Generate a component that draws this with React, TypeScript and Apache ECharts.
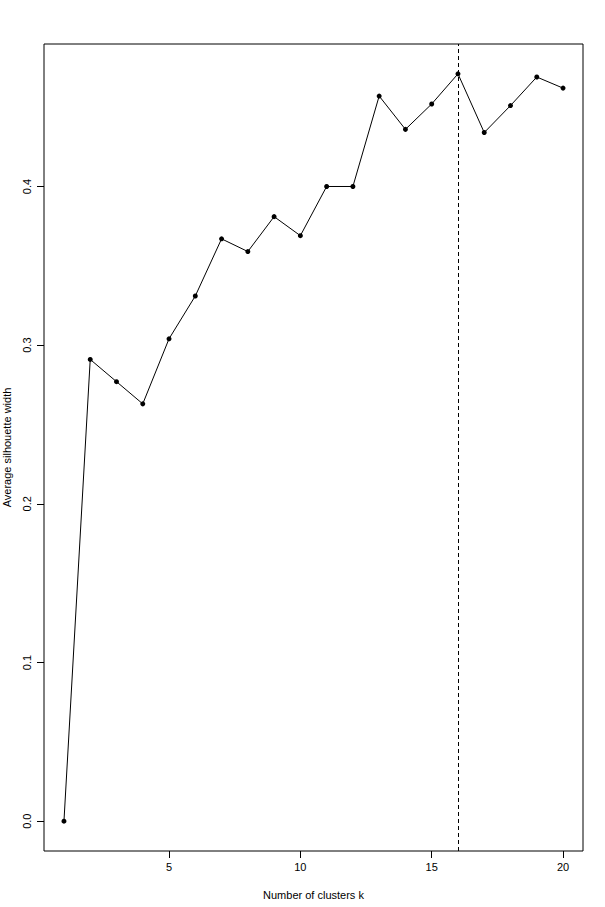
import { useEffect, useRef } from 'react';
import * as echarts from 'echarts';

const clusters = [1, 2, 3, 4, 5, 6, 7, 8, 9, 10, 11, 12, 13, 14, 15, 16, 17, 18, 19, 20];
const silhouette = [
  0.0, 0.291, 0.277, 0.263, 0.304, 0.331, 0.367, 0.359, 0.381, 0.369,
  0.4, 0.4, 0.457, 0.436, 0.452, 0.471, 0.434, 0.451, 0.469, 0.462,
];
const xTicks = [5, 10, 15, 20];
const yTicks = [0, 0.1, 0.2, 0.3, 0.4];
const bestK = 16;

export default function App() {
  const ref = useRef<HTMLDivElement | null>(null);

  useEffect(() => {
    document.body.style.margin = '0';
    if (!ref.current) return;
    const chart = echarts.init(ref.current, null, { renderer: 'svg' });
    const font = 'Arial, "Liberation Sans", sans-serif';
    chart.setOption({
      animation: false,
      textStyle: { fontFamily: font },
      grid: {
        left: 44, right: 22, top: 44, bottom: 56,
        show: true, borderColor: '#000', borderWidth: 1,
        containLabel: false, outerBoundsMode: 'none',
      },
      xAxis: {
        type: 'value',
        min: 0.24,
        max: 20.76,
        name: 'Number of clusters k',
        nameLocation: 'middle',
        nameGap: 38,
        nameTextStyle: { fontSize: 11, color: '#000' },
        splitLine: { show: false },
        axisLine: { show: false, onZero: false },
        axisTick: { show: true, inside: false, length: 7, customValues: xTicks, lineStyle: { color: '#000' } },
        axisLabel: { customValues: xTicks, fontSize: 11, color: '#000', margin: 10 },
      },
      yAxis: {
        type: 'value',
        min: -0.0188,
        max: 0.4898,
        name: 'Average silhouette width',
        nameLocation: 'middle',
        nameGap: 32,
        nameTextStyle: { fontSize: 11, color: '#000' },
        splitLine: { show: false },
        axisLine: { show: false, onZero: false },
        axisTick: { show: true, inside: false, length: 7, customValues: yTicks, lineStyle: { color: '#000' } },
        axisLabel: {
          customValues: yTicks,
          fontSize: 11,
          color: '#000',
          rotate: 90,
          margin: 12,
          formatter: (v: number) => v.toFixed(1),
        },
      },
      series: [
        {
          type: 'line',
          data: clusters.map((k, i) => [k, silhouette[i]]),
          symbol: 'circle',
          symbolSize: 5,
          itemStyle: { color: '#000' },
          lineStyle: { color: '#000', width: 1 },
          markLine: {
            silent: true,
            symbol: 'none',
            label: { show: false },
            lineStyle: { color: '#000', type: [4, 3], width: 1 },
            data: [{ xAxis: bestK }],
          },
        },
      ],
    });
    return () => chart.dispose();
  }, []);

  return <div ref={ref} style={{ width: 605, height: 907 }} />;
}
